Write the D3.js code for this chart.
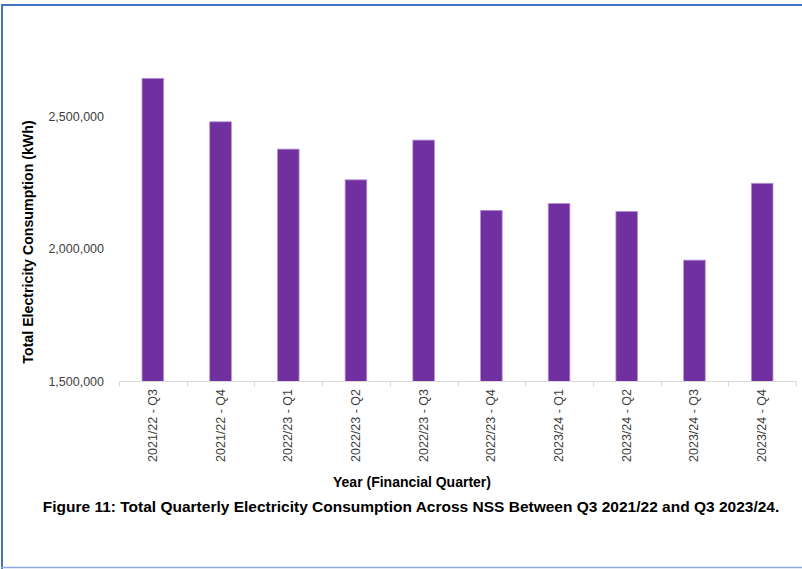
<!DOCTYPE html>
<html><head><meta charset="utf-8">
<script src="https://cdn.jsdelivr.net/npm/d3@7"></script>
<style>
html,body{margin:0;padding:0;background:#fff;}
svg{display:block;font-family:"Liberation Sans",Arial,sans-serif;}
</style></head>
<body>
<svg id="chart" width="802" height="569"></svg>
<script>
const categories = ["2021/22 - Q3","2021/22 - Q4","2022/23 - Q1","2022/23 - Q2","2022/23 - Q3","2022/23 - Q4","2023/24 - Q1","2023/24 - Q2","2023/24 - Q3","2023/24 - Q4"];
const consumption = [2644000, 2480000, 2377000, 2261000, 2411000, 2146000, 2172000, 2142000, 1958000, 2248000];
const yTicks = [1500000, 2000000, 2500000];
const yTitle = "Total Electricity Consumption (kWh)";
const xTitle = "Year (Financial Quarter)";
const caption = "Figure 11: Total Quarterly Electricity Consumption Across NSS Between Q3 2021/22 and Q3 2023/24.";

const svg = d3.select("#chart");

// border (top, left, bottom)
svg.append("line").attr("x1",1).attr("x2",802).attr("y1",5).attr("y2",5).attr("stroke","#4472C4").attr("stroke-width",2);
svg.append("line").attr("x1",2).attr("x2",2).attr("y1",4).attr("y2",569).attr("stroke","#4472C4").attr("stroke-width",2);
svg.append("line").attr("x1",1).attr("x2",802).attr("y1",567.5).attr("y2",567.5).attr("stroke","#8EAADB").attr("stroke-width",1.5);

const x = d3.scaleBand().domain(categories).range([119, 796]).paddingInner(0.68).paddingOuter(0.34);
const y = d3.scaleLinear().domain([1500000, 2500000]).range([381.5, 116.5]);

// bars
svg.append("g").selectAll("rect").data(consumption).join("rect")
  .attr("x",(d,i)=>x(categories[i]))
  .attr("width",x.bandwidth())
  .attr("y",d=>y(d))
  .attr("height",d=>y(1500000)-y(d))
  .attr("fill","#7030A0")
  .attr("stroke","#B995D6")
  .attr("stroke-width",0.8);

// x axis line and ticks at boundaries
const xb = d3.scaleLinear().domain([0, categories.length]).range([119, 796]);
const xg = svg.append("g");
xg.append("line").attr("x1",119).attr("x2",796).attr("y1",381.5).attr("y2",381.5).attr("stroke","#D9D9D9").attr("stroke-width",1);
xg.selectAll("line.tk").data(d3.range(categories.length+1)).join("line").attr("class","tk")
  .attr("x1",d=>Math.round(xb(d))+0.5).attr("x2",d=>Math.round(xb(d))+0.5)
  .attr("y1",381.5).attr("y2",386.5).attr("stroke","#D9D9D9");

// x tick labels
xg.selectAll("text").data(categories).join("text")
  .attr("transform",d=>`translate(${x(d)+x.bandwidth()/2+4},389) rotate(-90)`)
  .attr("text-anchor","end")
  .attr("font-size",12.5)
  .attr("fill","#404040")
  .text(d=>d);

// y tick labels
svg.append("g").selectAll("text").data(yTicks).join("text")
  .attr("x",104).attr("y",d=>y(d)+4)
  .attr("text-anchor","end")
  .attr("font-size",12.5)
  .attr("fill","#404040")
  .text(d=>d3.format(",")(d));

// y title
svg.append("text")
  .attr("transform","translate(32.5,242) rotate(-90)")
  .attr("text-anchor","middle")
  .attr("font-size",14.2).attr("font-weight","bold").attr("fill","#000")
  .text(yTitle);

// x title
svg.append("text").attr("x",412).attr("y",487)
  .attr("text-anchor","middle").attr("font-size",14).attr("font-weight","bold").attr("fill","#000")
  .text(xTitle);

// caption
svg.append("text").attr("x",411).attr("y",512)
  .attr("text-anchor","middle").attr("font-size",15.5).attr("font-weight","bold").attr("fill","#000")
  .text(caption);
</script>
</body></html>
